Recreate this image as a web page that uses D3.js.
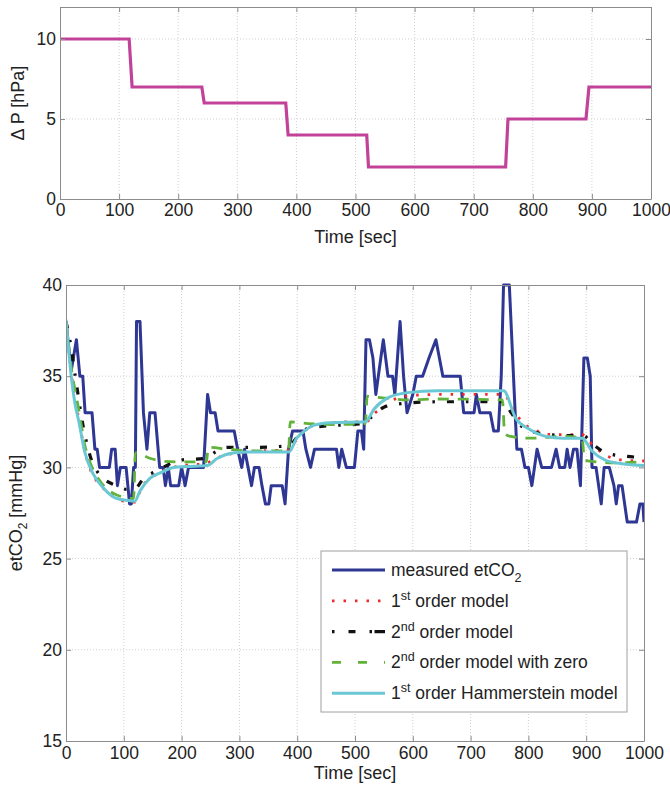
<!DOCTYPE html>
<html>
<head>
<meta charset="utf-8">
<script src="https://cdn.jsdelivr.net/npm/d3@7"></script>
<style>
  body { margin: 0; background: #fff; }
  svg text { font-family: "Liberation Sans", Arial, sans-serif; fill: #222; }
</style>
</head>
<body>
<div class="chart"></div>
<script>
// ---- data ----
const dpTime = [0, 117, 122, 240, 244, 382, 386, 519, 522, 754, 758, 890, 895, 1000];
const dpVal = [10, 10, 7, 7, 6, 6, 4, 4, 2, 2, 5, 5, 7, 7];

const measured = [
    [0, 38], [5, 36.5], [9, 35.3], [18, 37], [24, 35], [29, 35], [33, 33], [45, 33], [50, 31], [54, 31],
    [58, 30], [75, 30], [79, 31], [85, 31], [89, 29], [94, 30], [104, 30], [110, 28], [113, 28], [117, 30],
    [120, 30], [122, 38], [128, 38], [134, 33], [140, 31], [145, 33], [154, 33], [162, 30], [168, 30], [172, 29],
    [177, 30], [181, 29], [195, 29], [200, 30], [206, 29], [212, 30], [238, 30], [245, 34], [250, 33], [258, 33],
    [263, 32], [291, 32], [297, 31], [304, 30], [309, 31], [315, 30], [321, 29], [326, 30], [334, 30], [339, 29],
    [345, 28], [351, 28], [355, 29], [374, 29], [379, 28], [385, 31], [392, 32], [410, 32], [415, 31], [423, 30],
    [430, 31], [468, 31], [472, 30], [477, 31], [485, 30], [499, 30], [505, 32], [511, 32], [515, 31], [519, 37],
    [525, 37], [531, 36], [536, 34], [549, 37], [557, 35], [565, 35], [569, 34], [578, 38], [584, 35], [590, 33],
    [600, 34], [606, 35], [617, 35], [628, 36], [640, 37], [646, 36], [652, 35], [682, 35], [688, 33], [706, 33],
    [710, 34], [716, 33], [734, 33], [740, 32], [748, 32], [753, 35], [757, 40], [767, 40], [780, 31], [788, 31],
    [794, 30], [800, 30], [806, 29], [815, 31], [823, 30], [840, 30], [848, 31], [854, 30], [863, 30], [867, 31],
    [872, 30], [878, 31], [884, 31], [890, 29], [896, 36], [902, 36], [907, 35], [910, 30], [917, 30], [926, 28],
    [931, 30], [940, 30], [948, 29], [952, 28], [956, 29], [962, 29], [971, 27], [987, 27], [993, 28], [998, 28],
    [1000, 27]
];

const firstOrder = [
    [0, 38], [9, 35.2], [23, 32.5], [32, 31], [46, 29.6], [52, 29.3], [70, 28.7], [93, 28.2], [119, 28.1],
    [131, 28.9], [150, 29.5], [175, 29.9], [202, 30.1], [240, 30.2], [260, 30.5], [279, 30.7], [331, 30.9],
    [386, 30.95], [400, 31.6], [420, 32.2], [450, 32.4], [484, 32.5], [519, 32.5], [535, 33.0], [550, 33.3],
    [573, 33.8], [600, 33.95], [650, 34.0], [757, 34.0], [775, 33.1], [789, 32.5], [815, 32.0], [842, 31.8],
    [893, 31.8], [912, 31.2], [938, 30.6], [964, 30.4], [1000, 30.35]
];

const secondOrder = [
    [0, 38], [6, 37.1], [17, 34.8], [30, 32.2], [43, 30.5], [58, 29.6], [87, 29.0], [105, 28.8], [120, 28.85],
    [134, 29.4], [157, 29.8], [198, 30.4], [242, 30.5], [256, 30.8], [279, 31.1], [331, 31.1], [386, 31.2],
    [396, 31.5], [407, 32.0], [442, 32.25], [513, 32.4], [530, 32.8], [550, 33.3], [582, 33.5], [646, 33.6],
    [757, 33.6], [770, 33.0], [790, 32.2], [815, 31.9], [862, 31.75], [894, 31.75], [914, 31.2], [934, 30.8],
    [971, 30.6], [1000, 30.55]
];

const secondOrderZero = [
    [0, 38], [9, 35.5], [23, 33], [32, 31.3], [45, 30.0], [60, 29.2], [87, 28.5], [117, 28.3], [120, 30.8],
    [145, 30.5], [165, 30.35], [198, 30.3], [243, 30.3], [246, 31.1], [279, 31.0], [326, 30.9], [385, 30.9],
    [388, 32.5], [419, 32.4], [465, 32.35], [518, 32.4], [521, 33.9], [537, 33.85], [598, 33.7], [641, 33.75],
    [755, 33.7], [759, 31.85], [769, 31.7], [804, 31.6], [862, 31.7], [893, 31.6], [897, 30.4], [918, 30.3],
    [947, 30.25], [1000, 30.3]
];

const hammerstein = [
    [0, 38.1], [5, 36.3], [9, 35], [15, 33.6], [23, 32.4], [32, 30.9], [46, 29.7], [64, 28.9], [87, 28.3],
    [105, 28.2], [119, 28.15], [128, 28.7], [145, 29.4], [163, 29.7], [186, 30.0], [209, 30.05], [244, 30.1],
    [262, 30.5], [291, 30.8], [314, 30.85], [386, 30.85], [399, 31.6], [413, 32.0], [428, 32.3], [457, 32.45],
    [518, 32.5], [533, 33.2], [556, 33.8], [591, 34.1], [643, 34.2], [757, 34.2], [778, 32.7], [801, 32.1],
    [830, 31.7], [860, 31.6], [893, 31.6], [910, 30.9], [933, 30.4], [962, 30.2], [1000, 30.1]
];

const xTicks = [0, 100, 200, 300, 400, 500, 600, 700, 800, 900, 1000];
const dpTicks = [0, 5, 10];
const co2Ticks = [15, 20, 25, 30, 35, 40];

// ---- layout ----
var W = 670, H = 791;
var topBox = { left: 60, right: 651, top: 7, bottom: 199 };
var botBox = { left: 66, right: 644, top: 285, bottom: 741 };
var tickFont = 17.5, titleFont = 18;

var svg = d3.select('.chart')
    .append('svg')
    .attr("width", W)
    .attr("height", H);

var gridCol = "#cfcfcf", boxCol = "#8c8c8c";

// grid + clip for one panel, returns the scales
function panel(box, yDomain, yTicks, id) {
    var x = d3.scaleLinear().domain([0, 1000]).range([box.left, box.right]);
    var y = d3.scaleLinear().domain(yDomain).range([box.bottom, box.top]);

    var grid = svg.append("g").attr("class", "grid");
    grid.selectAll(".gx").data(xTicks.slice(1, -1)).enter().append("line")
        .attr("x1", d => x(d)).attr("x2", d => x(d))
        .attr("y1", box.top).attr("y2", box.bottom)
        .attr("stroke", gridCol).attr("stroke-dasharray", "1,2");
    grid.selectAll(".gy").data(yTicks.filter(d => d > yDomain[0] && d < yDomain[1])).enter().append("line")
        .attr("y1", d => y(d)).attr("y2", d => y(d))
        .attr("x1", box.left).attr("x2", box.right)
        .attr("stroke", gridCol).attr("stroke-dasharray", "1,2");

    svg.append("clipPath").attr("id", id)
        .append("rect")
        .attr("x", box.left).attr("y", box.top - 2)
        .attr("width", box.right - box.left).attr("height", box.bottom - box.top + 4);

    return { x: x, y: y, box: box, yTicks: yTicks };
}

// axes on all four sides, ticks pointing inward (matlab look)
function frame(p, padX) {
    var box = p.box;
    var fmt = d3.format("d");
    var axB = svg.append("g").attr("transform", "translate(0," + box.bottom + ")")
        .call(d3.axisBottom(p.x).tickValues(xTicks).tickFormat(fmt).tickSizeInner(-5).tickSizeOuter(0).tickPadding(padX));
    var axL = svg.append("g").attr("transform", "translate(" + box.left + ",0)")
        .call(d3.axisLeft(p.y).tickValues(p.yTicks).tickFormat(fmt).tickSizeInner(-5).tickSizeOuter(0).tickPadding(4));
    var axT = svg.append("g").attr("transform", "translate(0," + box.top + ")")
        .call(d3.axisTop(p.x).tickValues(xTicks).tickSizeInner(-5).tickSizeOuter(0).tickFormat(""));
    var axR = svg.append("g").attr("transform", "translate(" + box.right + ",0)")
        .call(d3.axisRight(p.y).tickValues(p.yTicks).tickSizeInner(-5).tickSizeOuter(0).tickFormat(""));
    [axB, axL, axT, axR].forEach(function (a) {
        a.select(".domain").attr("stroke", boxCol);
        a.selectAll(".tick line").attr("stroke", boxCol);
        a.selectAll("text").attr("font-size", tickFont).attr("fill", "#222")
            .attr("font-family", "Liberation Sans, Arial, sans-serif");
    });
}

// ---- top panel: pressure steps ----
var p1 = panel(topBox, [0, 12], dpTicks, "clipTop");
var dpData = dpTime.map((t, i) => [t, dpVal[i]]);
svg.append("path")
    .datum(dpData)
    .attr("clip-path", "url(#clipTop)")
    .attr("fill", "none")
    .attr("stroke", "#c2429a")
    .attr("stroke-width", 3.2)
    .attr("d", d3.line().x(d => p1.x(d[0])).y(d => p1.y(d[1])));
frame(p1, 5);

svg.append("text").attr("x", (topBox.left + topBox.right) / 2).attr("y", 243)
    .attr("text-anchor", "middle").attr("font-size", titleFont).text("Time [sec]");
svg.append("text").attr("transform", "translate(24," + (topBox.top + topBox.bottom) / 2 + ") rotate(-90)")
    .attr("text-anchor", "middle").attr("font-size", titleFont).text("\u0394 P [hPa]");

// ---- bottom panel: etCO2 ----
var p2 = panel(botBox, [15, 40], co2Ticks, "clipBot");

var series = [
    { name: "measured", data: measured, color: "#2e3794", width: 3, dash: null, curve: d3.curveLinear },
    { name: "first", data: firstOrder, color: "#ee2a2a", width: 2.8, dash: "2.5,9", curve: d3.curveMonotoneX },
    { name: "second", data: secondOrder, color: "#111111", width: 3.2, dash: "7,12,2.5,12", curve: d3.curveMonotoneX },
    { name: "zero", data: secondOrderZero, color: "#62b23a", width: 2.8, dash: "11,9", curve: d3.curveMonotoneX },
    { name: "hammer", data: hammerstein, color: "#6ac8d4", width: 3, dash: null, curve: d3.curveMonotoneX }
];

series.forEach(function (s) {
    svg.append("path")
        .datum(s.data)
        .attr("clip-path", "url(#clipBot)")
        .attr("fill", "none")
        .attr("stroke", s.color)
        .attr("stroke-width", s.width)
        .attr("stroke-dasharray", s.dash)
        .attr("stroke-linejoin", "round")
        .attr("d", d3.line().curve(s.curve).x(d => p2.x(d[0])).y(d => p2.y(d[1])));
});
frame(p2, 6);

svg.append("text").attr("x", (botBox.left + botBox.right) / 2).attr("y", 779)
    .attr("text-anchor", "middle").attr("font-size", titleFont).text("Time [sec]");
var yl = svg.append("text").attr("transform", "translate(22," + (botBox.top + botBox.bottom) / 2 + ") rotate(-90)")
    .attr("text-anchor", "middle").attr("font-size", titleFont);
yl.append("tspan").text("etCO");
yl.append("tspan").attr("font-size", 12).attr("dy", 5).text("2");
yl.append("tspan").attr("dy", -5).text(" [mmHg]");

// ---- legend ----
var legend = svg.append("g").attr("class", "legend");
legend.append("rect")
    .attr("x", 321).attr("y", 551).attr("width", 306).attr("height", 161)
    .attr("fill", "#fff").attr("stroke", "#a0a0a0");

var legendRows = [
    [["measured etCO", 0], ["2", 1]],
    [["1", 0], ["st", -1], [" order model", 0]],
    [["2", 0], ["nd", -1], [" order model", 0]],
    [["2", 0], ["nd", -1], [" order model with zero", 0]],
    [["1", 0], ["st", -1], [" order Hammerstein model", 0]]
];

series.forEach(function (s, i) {
    var ly = 570 + i * 30.8;
    legend.append("line")
        .attr("x1", 332).attr("x2", 385).attr("y1", ly).attr("y2", ly)
        .attr("stroke", s.color).attr("stroke-width", s.width)
        .attr("stroke-dasharray", s.name == "second" ? "2.5,14,7,14,2.5" : s.name == "zero" ? "9,17" : s.dash);
    var t = legend.append("text").attr("x", 391).attr("y", ly + 6).attr("font-size", 17.5);
    var shift = 0;
    legendRows[i].forEach(function (part) {
        var dy = 0;
        if (part[1] == 1) dy = 6 - shift;
        else if (part[1] == -1) dy = -7 - shift;
        else dy = -shift;
        t.append("tspan").attr("dy", dy)
            .attr("font-size", part[1] == 0 ? 17.5 : 12.5)
            .text(part[0]);
        shift = part[1] == 1 ? 6 : part[1] == -1 ? -7 : 0;
    });
});
</script>
</body>
</html>
